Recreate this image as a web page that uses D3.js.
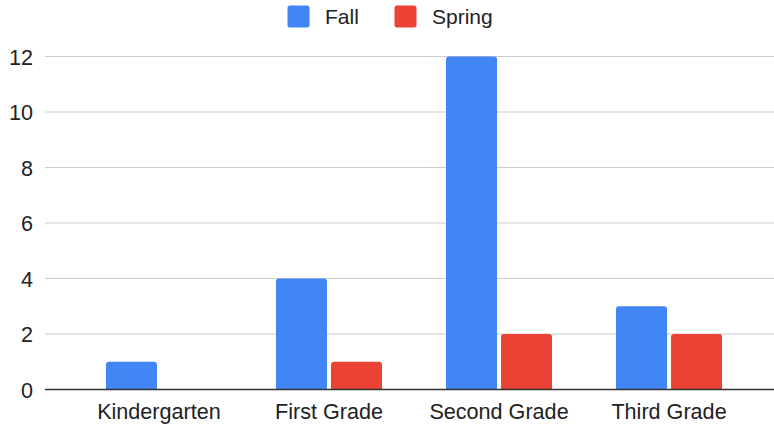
<!DOCTYPE html>
<html>
<head>
<meta charset="utf-8">
<script src="https://cdn.jsdelivr.net/npm/d3@7"></script>
<style>
  html, body { margin: 0; padding: 0; background: #fff; }
  svg { display: block; font-family: "Liberation Sans", Arial, Helvetica, sans-serif; }
</style>
</head>
<body>
<svg id="chart" width="774" height="426"></svg>
<script>
// Chart data
const categories = ["Kindergarten", "First Grade", "Second Grade", "Third Grade"];
const seriesNames = ["Fall", "Spring"];
const fallValues = [1, 4, 12, 3];
const springValues = [0, 1, 2, 2];
const yTicks = [0, 2, 4, 6, 8, 10, 12];
const seriesColors = ["#4285F4", "#EA4335"];

const seriesValues = [fallValues, springValues];
const rows = categories.map((c, i) => ({
  category: c,
  values: seriesNames.map((s, j) => ({ series: s, value: seriesValues[j][i], color: seriesColors[j] }))
}));

const svg = d3.select("#chart");
const plot = { left: 45, right: 774, top: 56.5, bottom: 389.5 };
const fontSize = 21;
const axisFontSize = 21.6;

const x0 = d3.scaleBand()
  .domain(categories)
  .range([74, 754])
  .paddingInner(0.3765)
  .paddingOuter(0.188);

const x1 = d3.scaleBand()
  .domain(seriesNames)
  .range([0, x0.bandwidth()])
  .paddingInner(4 / 55);

const y = d3.scaleLinear()
  .domain([0, 12])
  .range([plot.bottom, plot.top]);

// Gridlines
svg.append("g")
  .selectAll("line")
  .data(yTicks.filter(t => t !== 0))
  .join("line")
  .attr("x1", plot.left)
  .attr("x2", plot.right)
  .attr("y1", d => y(d))
  .attr("y2", d => y(d))
  .attr("stroke", "#cccccc")
  .attr("stroke-width", 1.2);

// Y axis labels
const yAxis = d3.axisLeft(y).tickValues(yTicks).tickSize(0).tickPadding(0).tickFormat(d3.format("d"));
const yg = svg.append("g").attr("transform", `translate(33,0)`).call(yAxis);
yg.select(".domain").remove();
yg.selectAll("text")
  .attr("font-size", axisFontSize)
  .attr("font-family", "'Liberation Sans', Arial, Helvetica, sans-serif")
  .attr("fill", "#222")
  .attr("dy", "0.36em");

// Rounded-top bar path
function barPath(xp, yp, w, h, r) {
  r = Math.min(r, h, w / 2);
  if (h <= 0) return "";
  return `M${xp},${yp + h}V${yp + r}Q${xp},${yp} ${xp + r},${yp}H${xp + w - r}Q${xp + w},${yp} ${xp + w},${yp + r}V${yp + h}Z`;
}

const groups = svg.append("g")
  .selectAll("g")
  .data(rows)
  .join("g")
  .attr("transform", d => `translate(${x0(d.category)},0)`);

groups.selectAll("path")
  .data(d => d.values.filter(v => v.value > 0))
  .join("path")
  .attr("d", v => barPath(x1(v.series), y(v.value), x1.bandwidth(), y(0) - y(v.value), 3))
  .attr("fill", v => v.color);

// Baseline
svg.append("line")
  .attr("x1", plot.left)
  .attr("x2", plot.right)
  .attr("y1", y(0))
  .attr("y2", y(0))
  .attr("stroke", "#333333")
  .attr("stroke-width", 1.3);

// X axis labels
const xAxis = d3.axisBottom(x0).tickSize(0).tickPadding(0);
const xg = svg.append("g").attr("transform", `translate(0,${y(0)})`).call(xAxis);
xg.select(".domain").remove();
xg.selectAll("text")
  .attr("font-size", axisFontSize)
  .attr("font-family", "'Liberation Sans', Arial, Helvetica, sans-serif")
  .attr("fill", "#222")
  .attr("dy", null)
  .attr("y", 29.5);

// Legend
const legendX = [287.5, 394.5];
const legend = svg.append("g")
  .selectAll("g")
  .data(seriesNames)
  .join("g")
  .attr("transform", (d, i) => `translate(${legendX[i]},5.5)`);

legend.append("rect")
  .attr("width", 22)
  .attr("height", 22)
  .attr("rx", 2.5)
  .attr("fill", (d, i) => seriesColors[i]);

legend.append("text")
  .attr("x", 37.5)
  .attr("y", 18.5)
  .attr("font-size", fontSize)
  .attr("fill", "#222")
  .text(d => d);
</script>
</body>
</html>
